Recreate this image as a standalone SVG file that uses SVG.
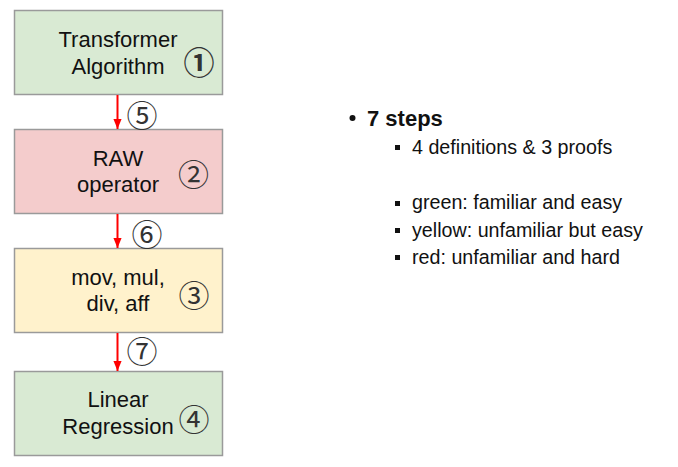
<svg xmlns="http://www.w3.org/2000/svg" width="678" height="467" viewBox="0 0 678 467">
<defs>
<style>
.box{stroke:#9a9a9a;stroke-width:1.5}
.t{font-family:"Liberation Sans",Arial,sans-serif;font-size:22px;fill:#111;text-anchor:middle}
.c{font-family:"Noto Sans CJK JP","DejaVu Sans",sans-serif;font-size:31px;font-weight:400;fill:#333;text-anchor:middle;dominant-baseline:central}
.c1{font-weight:700}
.r{font-family:"Liberation Sans",Arial,sans-serif;fill:#111}
.edge{stroke:#ff0000;stroke-width:2;fill:none}
</style>
<marker id="ah" markerWidth="10" markerHeight="12" refX="11" refY="5" orient="auto" markerUnits="userSpaceOnUse" viewBox="0 0 11 10">
<path d="M0,0.5 L11,5 L0,9.5 z" fill="#ff0000"/>
</marker>
</defs>
<rect width="678" height="467" fill="#fff"/>
<g id="n1">
<rect class="box" x="14.5" y="10.5" width="208" height="84" fill="#d9ead3"/>
<text class="t" x="118" y="47">Transformer</text>
<text class="t" x="118" y="74">Algorithm</text>
<text class="c c1" x="199" y="60">①</text>
</g>
<g id="n2">
<rect class="box" x="14.5" y="129.5" width="208" height="84" fill="#f4cccc"/>
<text class="t" x="118" y="166">RAW</text>
<text class="t" x="118" y="192">operator</text>
<text class="c" x="193.5" y="172.5">②</text>
</g>
<g id="n3">
<rect class="box" x="14.5" y="248.5" width="208" height="84" fill="#fff2cc"/>
<text class="t" x="118" y="285">mov, mul,</text>
<text class="t" x="118" y="311">div, aff</text>
<text class="c" x="194" y="293.5">③</text>
</g>
<g id="n4">
<rect class="box" x="14.5" y="371.5" width="208" height="84" fill="#d9ead3"/>
<text class="t" x="118" y="407">Linear</text>
<text class="t" x="118" y="434">Regression</text>
<text class="c" x="194" y="417.5">④</text>
</g>
<g id="edges">
<line class="edge" x1="117.5" y1="95" x2="117.5" y2="129" marker-end="url(#ah)"/>
<line class="edge" x1="117.5" y1="214" x2="117.5" y2="248" marker-end="url(#ah)"/>
<line class="edge" x1="117.5" y1="333" x2="117.5" y2="371" marker-end="url(#ah)"/>
<text class="c" x="142" y="113.5">⑤</text>
<text class="c" x="147" y="232">⑥</text>
<text class="c" x="142" y="349">⑦</text>
</g>
<g id="notes">
<circle cx="352.5" cy="118" r="3" fill="#111"/>
<text class="r" x="367" y="126" font-size="22" font-weight="bold">7 steps</text>
<g fill="#111">
<rect x="395" y="145" width="5" height="5"/>
<rect x="395" y="201" width="5" height="5"/>
<rect x="395" y="228" width="5" height="5"/>
<rect x="395" y="255" width="5" height="5"/>
</g>
<g font-size="19.7">
<text class="r" x="412" y="153.5">4 definitions &amp; 3 proofs</text>
<text class="r" x="412" y="209">green: familiar and easy</text>
<text class="r" x="412" y="236.5">yellow: unfamiliar but easy</text>
<text class="r" x="412" y="263.5">red: unfamiliar and hard</text>
</g>
</g>
</svg>
